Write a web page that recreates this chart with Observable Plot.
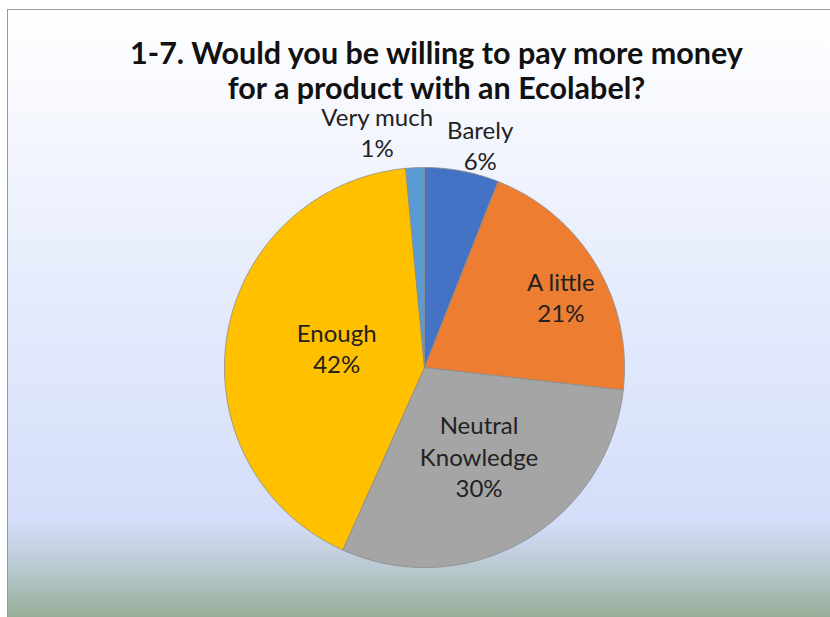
<!DOCTYPE html>
<html><head><meta charset="utf-8">
<script src="https://cdn.jsdelivr.net/npm/d3@7"></script>
<script src="https://cdn.jsdelivr.net/npm/@observablehq/plot@0.6"></script>
<style>
body{margin:0;width:830px;height:617px;overflow:hidden;background:#fff;}
#chart{position:absolute;left:7px;top:9px;width:823px;height:608px;border-left:1px solid #9a9a9a;border-top:1px solid #9a9a9a;
background:linear-gradient(to bottom,#ffffff 0%,#e6ecfc 45%,#d4defa 84%,#b8c8d0 92%,#96ad96 100%);font-family:Lato,"Open Sans",sans-serif;}
#title{height:90px;box-sizing:border-box;padding-top:25px;padding-left:34px;text-align:center;font-weight:bold;font-size:30.5px;line-height:35px;color:#111;}
svg{display:block;background:transparent;}
</style></head>
<body><div id="chart"><div id="title">1-7. Would you be willing to pay more money<br>for a product with an Ecolabel?</div></div>
<script>
const categories = ["Barely","A little","Neutral Knowledge","Enough","Very much"];
const shares = [6.0, 20.8, 29.9, 41.8, 1.5];
const pctLabels = ["6%","21%","30%","42%","1%"];
const labelLines = ["Barely","A little","Neutral\nKnowledge","Enough","Very much"];
const colors = ["#4472C4","#ED7D31","#A5A5A5","#FFC000","#5B9BD5"];

// label layout (styling)
const layout = {
  "Barely": {r:1.14, dx:13, dy:1},
  "A little": {r:0.76, dx:6, dy:7},
  "Neutral Knowledge": {r:0.53, dx:2, dy:-4},
  "Enough": {r:0.45, dx:1, dy:-5},
  "Very much": {r:1.2, dx:-36, dy:4}
};

const arcs = d3.pie().sort(null).value((d,i)=>shares[i])(categories);
const pts = [];
const labels = [];
arcs.forEach((a,i)=>{
  const cat = categories[i];
  pts.push({cat, x:0, y:0});
  const n = Math.max(2, Math.ceil((a.endAngle-a.startAngle)/0.01));
  for(let k=0;k<=n;k++){
    const t = a.startAngle + (a.endAngle-a.startAngle)*k/n;
    pts.push({cat, x:Math.sin(t), y:Math.cos(t)});
  }
  pts.push({cat, x:0, y:0});
  const mid = (a.startAngle+a.endAngle)/2;
  const L = layout[cat];
  labels.push({cat, x:Math.sin(mid)*L.r, y:Math.cos(mid)*L.r, dx:L.dx, dy:L.dy, text: labelLines[i]+"\n"+pctLabels[i]});
});

const plot = Plot.plot({
  width: 823, height: 517, margin: 0,
  x: {domain:[-1,1], range:[216,616], axis:null},
  y: {domain:[-1,1], range:[467,67], axis:null},
  color: {domain: categories, range: colors},
  style: {background:"transparent", fontFamily:"Lato, 'Open Sans', sans-serif"},
  marks: [
    Plot.line(pts, {x:"x", y:"y", z:"cat", fill:"cat", stroke:"#8a8a8a", strokeWidth:0.8, strokeLinejoin:"round", curve:"linear"}),
    ...labels.map(l => Plot.text([l], {x:"x", y:"y", text:"text", dx:l.dx, dy:l.dy, fontSize:24, lineHeight:1.3, fill:"#222"}))
  ]
});
document.getElementById("chart").appendChild(plot);
</script>
</body></html>
